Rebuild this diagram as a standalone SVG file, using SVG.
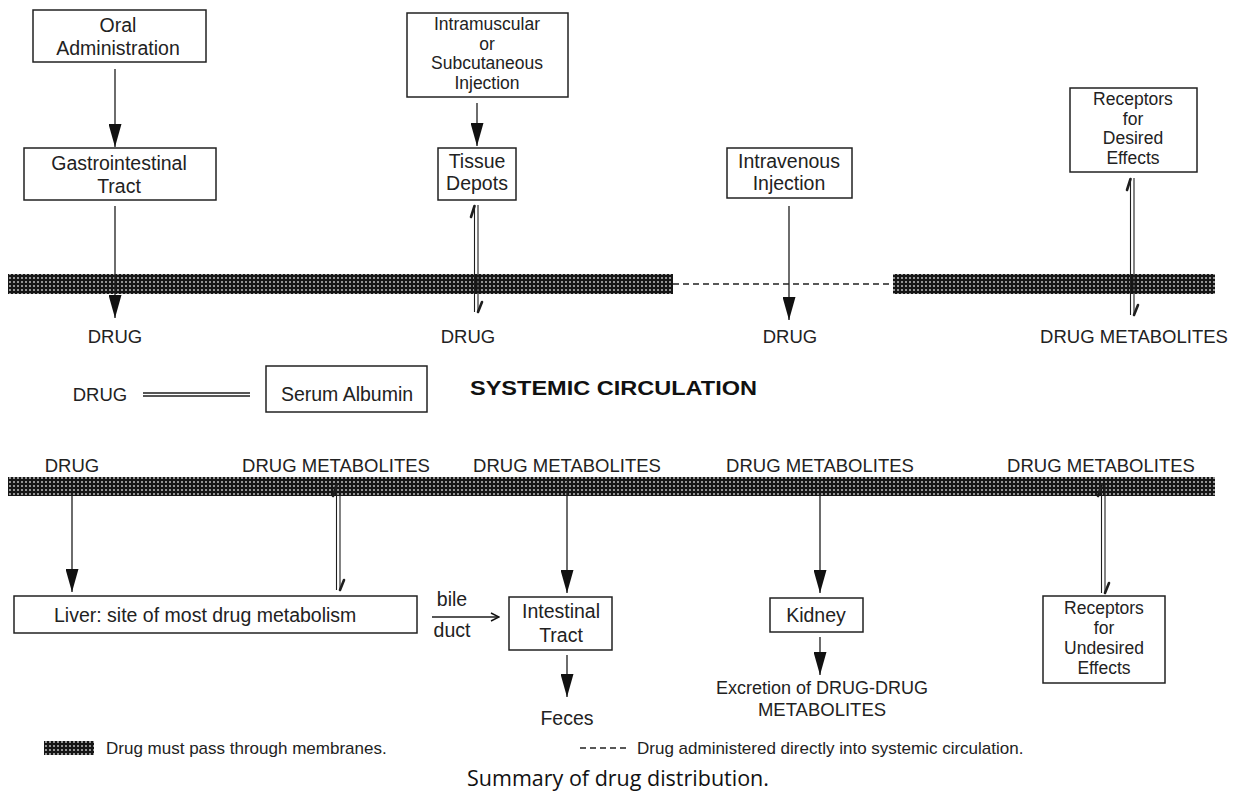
<svg xmlns="http://www.w3.org/2000/svg" width="1237" height="798" viewBox="0 0 1237 798">
<style>
.t{font-family:"Liberation Sans",Arial,sans-serif;font-size:19.5px;fill:#222;text-anchor:middle}
.t4{font-family:"Liberation Sans",Arial,sans-serif;font-size:17.5px;fill:#222;text-anchor:middle}
.l{font-family:"Liberation Sans",Arial,sans-serif;font-size:18.5px;fill:#222;text-anchor:middle}
.box{fill:#fff;stroke:#222;stroke-width:1.5}
.ln{stroke:#1e1e1e;stroke-width:1.3;fill:none}
.dl{stroke:#333;stroke-width:1.1;fill:none;stroke-dasharray:2,2}
.hp{stroke:#1e1e1e;stroke-width:1.1;fill:none}
.barb{stroke:#1e1e1e;stroke-width:2.6;fill:none;stroke-linecap:round}
.lg{font-family:"Liberation Sans",Arial,sans-serif;font-size:17px;fill:#222}
</style>
<defs>
<pattern id="hatch" width="4" height="4" patternUnits="userSpaceOnUse">
<rect width="4" height="4" fill="#161616"/>
<rect x="1.2" y="1.2" width="1.6" height="1.6" fill="#d8d8d8"/>
</pattern>
<marker id="ah" viewBox="0 0 23 13" refX="23" refY="6.5" markerWidth="23" markerHeight="13" markerUnits="userSpaceOnUse" orient="auto">
<path d="M0,0 L23,6.5 L0,13 z" fill="#111"/>
</marker>
<marker id="oh" viewBox="0 0 10 10" refX="9" refY="5" markerWidth="10" markerHeight="10" markerUnits="userSpaceOnUse" orient="auto">
<path d="M1,1 L9,5 L1,9" fill="none" stroke="#111" stroke-width="1.4"/>
</marker>
</defs>
<rect width="1237" height="798" fill="#fff"/>

<g id="membranes">
<rect x="8" y="274" width="665" height="20" fill="url(#hatch)"/>
<rect x="893" y="274" width="322" height="20" fill="url(#hatch)"/>
<line x1="673" y1="284" x2="893" y2="284" stroke="#222" stroke-width="1.6" stroke-dasharray="6,4"/>
<rect x="8" y="477" width="1207" height="19" fill="url(#hatch)"/>
</g>

<g id="oral"><rect class="box" x="33" y="10" width="173" height="52"/><text class="t" x="118" y="32">Oral</text><text class="t" x="118" y="55">Administration</text></g>
<g id="gi"><rect class="box" x="24" y="148" width="192" height="52"/><text class="t" x="119" y="170">Gastrointestinal</text><text class="t" x="119" y="193">Tract</text></g>
<g id="im"><rect class="box" x="407" y="13" width="161" height="84"/><text class="t4" x="487" y="30">Intramuscular</text><text class="t4" x="487" y="49.5">or</text><text class="t4" x="487" y="69">Subcutaneous</text><text class="t4" x="487" y="88.5">Injection</text></g>
<g id="depots"><rect class="box" x="438" y="148" width="78" height="52"/><text class="t" x="477" y="168">Tissue</text><text class="t" x="477" y="190">Depots</text></g>
<g id="iv"><rect class="box" x="727" y="148" width="125" height="50"/><text class="t" x="789" y="168">Intravenous</text><text class="t" x="789" y="190">Injection</text></g>
<g id="recdes"><rect class="box" x="1070" y="88" width="127" height="84"/><text class="t4" x="1133" y="105">Receptors</text><text class="t4" x="1133" y="124.5">for</text><text class="t4" x="1133" y="144">Desired</text><text class="t4" x="1133" y="163.5">Effects</text></g>

<g id="toplabels">
<text class="l" x="115" y="343">DRUG</text>
<text class="l" x="468" y="343">DRUG</text>
<text class="l" x="790" y="343">DRUG</text>
<text class="l" x="1134" y="343">DRUG METABOLITES</text>
</g>

<g id="albumin">
<text class="l" x="100" y="401">DRUG</text>
<rect class="box" x="266" y="366" width="161" height="46"/><text class="t" x="347" y="401">Serum Albumin</text>
</g>
<text id="systemic" x="470" y="395" font-family="Liberation Sans,Arial,sans-serif" font-weight="bold" font-size="19.5" fill="#111" textLength="287" lengthAdjust="spacingAndGlyphs">SYSTEMIC CIRCULATION</text>

<g id="bottomlabels">
<text class="l" x="72" y="472">DRUG</text>
<text class="l" x="336" y="472">DRUG METABOLITES</text>
<text class="l" x="567" y="472">DRUG METABOLITES</text>
<text class="l" x="820" y="472">DRUG METABOLITES</text>
<text class="l" x="1101" y="472">DRUG METABOLITES</text>
</g>

<g id="liver"><rect class="box" x="14" y="596" width="403" height="37"/><text class="t" x="54" y="622" style="text-anchor:start">Liver: site of most drug metabolism</text></g>
<g id="intestinal"><rect class="box" x="509" y="597" width="103" height="53"/><text class="t" x="561" y="618">Intestinal</text><text class="t" x="561" y="642">Tract</text></g>
<g id="kidney"><rect class="box" x="770" y="598" width="93" height="34"/><text class="t" x="816" y="622">Kidney</text></g>
<g id="recund"><rect class="box" x="1043" y="596" width="122" height="87"/><text class="t4" x="1104" y="614">Receptors</text><text class="t4" x="1104" y="634">for</text><text class="t4" x="1104" y="654">Undesired</text><text class="t4" x="1104" y="674">Effects</text></g>
<g id="feces"><text class="t" x="567" y="725">Feces</text></g>
<g id="excretion"><text class="t" x="822" y="694" style="font-size:18px">Excretion of DRUG-DRUG</text><text class="t" x="822" y="716" style="font-size:18.5px">METABOLITES</text></g>
<g id="bile"><text class="t" x="452" y="606">bile</text><text class="t" x="452" y="637">duct</text></g>

<g id="connectors">
<line class="ln" x1="115" y1="69" x2="115" y2="147" marker-end="url(#ah)"/>
<line class="ln" x1="115" y1="206" x2="115" y2="318" marker-end="url(#ah)"/>
<line class="ln" x1="477" y1="103" x2="477" y2="146" marker-end="url(#ah)"/>
<line class="ln" x1="789" y1="206" x2="789" y2="320" marker-end="url(#ah)"/>
<line class="ln" x1="143" y1="393" x2="250" y2="393"/>
<line class="ln" x1="143" y1="396" x2="250" y2="396"/>
<line class="hp" x1="474.5" y1="205" x2="474.5" y2="312"/><line class="hp" x1="478" y1="205" x2="478" y2="312"/>
<path class="barb" d="M474.5,206 L471,217"/><path class="barb" d="M478,312 L482,302"/>
<line class="hp" x1="1130.5" y1="178" x2="1130.5" y2="315"/><line class="hp" x1="1134" y1="178" x2="1134" y2="315"/>
<path class="barb" d="M1130.5,179 L1127,190"/><path class="barb" d="M1134,315 L1138,305"/>
<line class="ln" x1="72" y1="484" x2="72" y2="592" marker-end="url(#ah)"/>
<line class="hp" x1="336.5" y1="484" x2="336.5" y2="590"/><line class="hp" x1="340" y1="484" x2="340" y2="590"/>
<path class="barb" d="M336.5,485 L333,496"/><path class="barb" d="M340,590 L344,580"/>
<line class="dl" x1="567" y1="484" x2="567" y2="477"/>
<line class="ln" x1="567" y1="490" x2="567" y2="593" marker-end="url(#ah)"/>
<line class="dl" x1="820" y1="484" x2="820" y2="477"/>
<line class="ln" x1="820" y1="490" x2="820" y2="593" marker-end="url(#ah)"/>
<line class="hp" x1="1101.5" y1="484" x2="1101.5" y2="593"/><line class="hp" x1="1105" y1="484" x2="1105" y2="593"/>
<path class="barb" d="M1101.5,485 L1098,496"/><path class="barb" d="M1105,593 L1109,583"/>
<line class="ln" x1="432" y1="617" x2="499" y2="617" marker-end="url(#oh)"/>
<line class="ln" x1="567" y1="655" x2="567" y2="697" marker-end="url(#ah)"/>
<line class="ln" x1="820" y1="637" x2="820" y2="675" marker-end="url(#ah)"/>
</g>

<g id="legend">
<rect x="44" y="741" width="50" height="14" fill="url(#hatch)"/>
<text class="lg" x="106" y="754">Drug must pass through membranes.</text>
<line x1="580" y1="748" x2="626" y2="748" stroke="#222" stroke-width="1.6" stroke-dasharray="6,4"/>
<text class="lg" x="637" y="754">Drug administered directly into systemic circulation.</text>
<text x="618" y="786" font-family="Open Sans,Noto Sans,sans-serif" font-size="21.5" fill="#111" text-anchor="middle">Summary of drug distribution.</text>
</g>
</svg>
